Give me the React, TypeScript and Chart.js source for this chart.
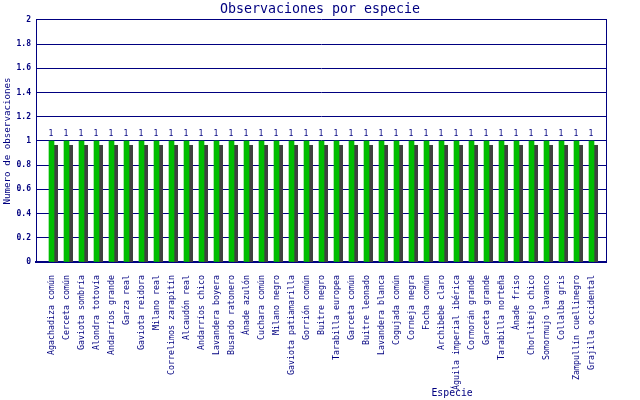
import React, { useEffect, useRef } from "react";
import { Chart, registerables, Plugin } from "chart.js";

Chart.register(...registerables);

// species observed (x axis categories)
const species: string[] = [
  "Agachadiza común",
  "Cerceta común",
  "Gaviota sombría",
  "Alondra totovía",
  "Andarríos grande",
  "Garza real",
  "Gaviota reidora",
  "Milano real",
  "Correlimos zarapitín",
  "Alcaudón real",
  "Andarríos chico",
  "Lavandera boyera",
  "Busardo ratonero",
  "Ánade azulón",
  "Cuchara común",
  "Milano negro",
  "Gaviota patiamarilla",
  "Gorrión común",
  "Buitre negro",
  "Tarabilla europea",
  "Garceta común",
  "Buitre leonado",
  "Lavandera blanca",
  "Cogujada común",
  "Corneja negra",
  "Focha común",
  "Archibebe claro",
  "Águila imperial ibérica",
  "Cormorán grande",
  "Garceta grande",
  "Tarabilla norteña",
  "Ánade friso",
  "Chorlitejo chico",
  "Somormujo lavanco",
  "Collalba gris",
  "Zampullín cuellinegro",
  "Grajilla occidental",
];

// number of observations per species
const observations: number[] = [
  1, 1, 1, 1, 1, 1, 1, 1, 1, 1, 1, 1, 1, 1, 1, 1, 1, 1, 1,
  1, 1, 1, 1, 1, 1, 1, 1, 1, 1, 1, 1, 1, 1, 1, 1, 1, 1,
];

const yMax = 2;
const yStep = 0.2;

const NAVY = "#000080";
const GREEN = "#00bd00";
const SHADOW = "#404040";
const MONO = "'DejaVu Sans Mono', monospace";

const barDecor: Plugin<"bar"> = {
  id: "barDecor",
  beforeDatasetsDraw(chart) {
    const { ctx, chartArea } = chart;
    const meta = chart.getDatasetMeta(0);
    ctx.save();
    ctx.beginPath();
    ctx.rect(chartArea.left, chartArea.top, chartArea.right - chartArea.left, chartArea.bottom - chartArea.top);
    ctx.clip();
    ctx.fillStyle = SHADOW;
    meta.data.forEach((el) => {
      const { x, y, base, width } = el.getProps(["x", "y", "base", "width"], true) as any;
      ctx.fillRect(x - width / 2 + 4, y + 4, width, base - y);
    });
    ctx.restore();
  },
  afterDatasetsDraw(chart) {
    const { ctx } = chart;
    const meta = chart.getDatasetMeta(0);
    ctx.save();
    ctx.fillStyle = NAVY;
    ctx.font = `8px ${MONO}`;
    ctx.textAlign = "center";
    ctx.textBaseline = "alphabetic";
    meta.data.forEach((el, i) => {
      const { x, y } = el.getProps(["x", "y"], true) as any;
      ctx.fillText(String(observations[i]), x - 0.5, y - 5);
    });
    ctx.restore();
  },
  afterDraw(chart) {
    const { ctx, chartArea } = chart;
    ctx.save();
    // x axis title, placed right of centre as in the original
    ctx.fillStyle = NAVY;
    ctx.font = `9.8px ${MONO}`;
    ctx.textAlign = "center";
    ctx.textBaseline = "middle";
    const tx = chartArea.left + (chartArea.right - chartArea.left) * 0.73;
    ctx.fillText("Especie", tx, chart.height - 7);
    ctx.restore();
  },
};

const ObservationsChart: React.FC = () => {
  const canvasRef = useRef<HTMLCanvasElement | null>(null);

  useEffect(() => {
    document.body.style.margin = "0";
    if (!canvasRef.current) return;
    const chart = new Chart(canvasRef.current, {
      type: "bar",
      data: {
        datasets: [
          {
            label: "Observaciones",
            data: observations.map((v, i) => ({ x: i, y: v })),
            backgroundColor: GREEN,
            borderWidth: 0,
            barThickness: 5,
          },
        ],
      },
      options: {
        animation: false,
        responsive: true,
        maintainAspectRatio: false,
        devicePixelRatio: 1,
        layout: { padding: 0 },
        plugins: {
          legend: { display: false },
          tooltip: { enabled: false },
          title: {
            display: true,
            text: "Observaciones por especie",
            color: NAVY,
            font: { family: MONO, size: 13.3, weight: "normal", lineHeight: 1.2 },
            padding: { top: 2, bottom: 2 },
          },
        },
        scales: {
          x: {
            type: "linear",
            offset: false,
            min: -31 / 30,
            max: 36 + 29 / 30,
            grid: { display: false },
            border: { color: NAVY, width: 2 },
            afterBuildTicks: (scale) => {
              scale.ticks = species.map((_, i) => ({ value: i }));
            },
            afterFit: (scale) => {
              scale.height = 138;
            },
            ticks: {
              autoSkip: false,
              minRotation: 90,
              maxRotation: 90,
              padding: 5,
              color: NAVY,
              font: { family: MONO, size: 8.3 },
              callback: (v) => species[Number(v)] ?? "",
            },
          },
          y: {
            min: 0,
            max: yMax,
            grid: { color: NAVY, drawTicks: false, lineWidth: 1 },
            border: { color: NAVY },
            afterFit: (scale) => {
              scale.width = 36;
            },
            ticks: {
              stepSize: yStep,
              padding: 5,
              color: NAVY,
              font: { family: MONO, size: 8, weight: "bold" },
              callback: (v) => String(Math.round(Number(v) * 10) / 10),
            },
            title: {
              display: true,
              text: "Numero de observaciones",
              color: NAVY,
              font: { family: MONO, size: 9.2 },
              padding: { top: 2, bottom: 0 },
            },
          },
          // empty right axis: closes the frame and keeps the right margin
          yRight: {
            position: "right",
            min: 0,
            max: yMax,
            grid: { display: false },
            border: { color: NAVY },
            ticks: { display: false },
            afterFit: (scale) => {
              scale.width = 34;
            },
          },
        },
      },
      plugins: [barDecor],
    });
    return () => {
      chart.destroy();
    };
  }, []);

  return (
    <div style={{ width: 640, height: 400, position: "relative", background: "#fff" }}>
      <canvas ref={canvasRef} />
    </div>
  );
};

export default function App() {
  return <ObservationsChart />;
}
